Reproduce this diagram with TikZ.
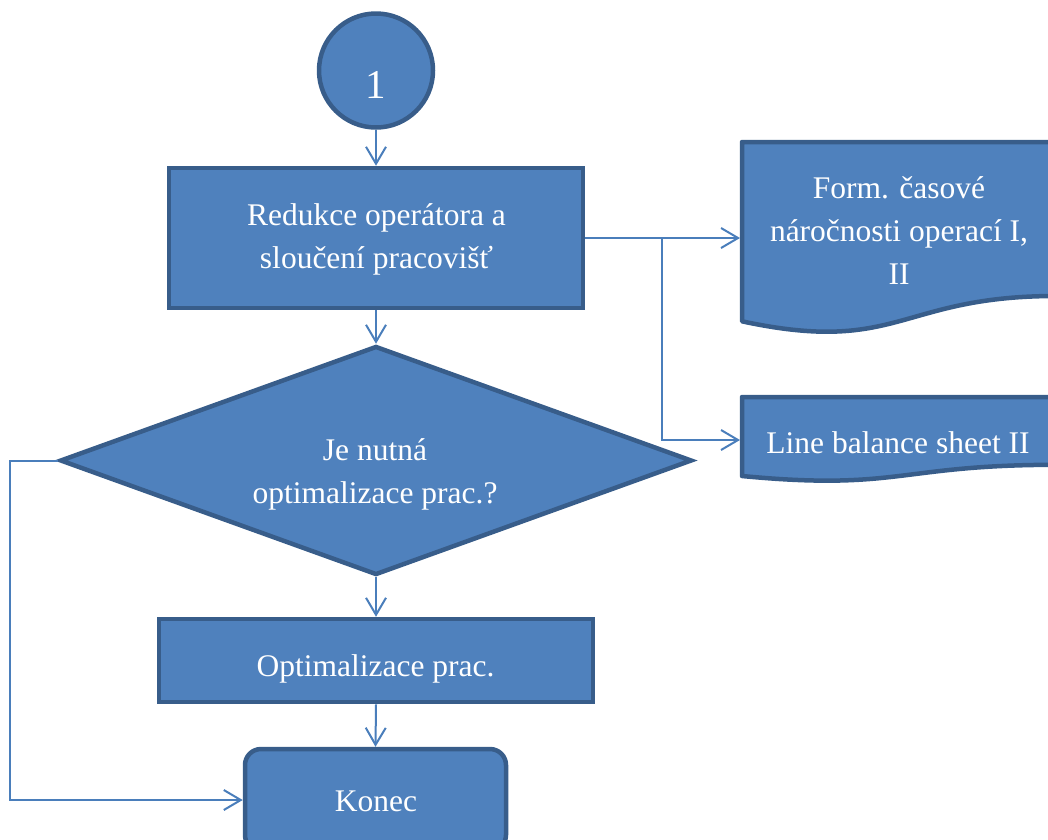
\documentclass[tikz,border=0pt]{standalone}
\usepackage{fontspec}
\setmainfont{Liberation Serif}
\usetikzlibrary{shapes.geometric,arrows.meta}
\definecolor{boxfill}{HTML}{4F81BD}
\definecolor{boxline}{HTML}{385D8A}
\definecolor{wirecol}{HTML}{4A7EBB}
\begin{document}
\begin{tikzpicture}[x=1pt,y=-1pt,
  shapebox/.style={draw=boxline, fill=boxfill, line width=4.5pt, inner sep=0pt},
  docbox/.style={draw=boxline, fill=boxfill, line width=4.5pt, line join=round},
  txt/.style={text=white, font=\fontsize{31.5}{43}\selectfont, align=center, inner sep=0pt},
  conn/.style={draw=wirecol, line width=2pt, -{Straight Barb[length=17pt,width=20pt,line width=2pt]}}]
\useasboundingbox (0,0) rectangle (1048,839);
\clip (0,0) rectangle (1048,839);

% flow shapes
\node[shapebox, circle, minimum size=114pt] (start) at (376,70.5) {};
\node[shapebox, rectangle, minimum width=414pt, minimum height=140pt] (reduce) at (376,238) {};
\node[shapebox, diamond, minimum width=632pt, minimum height=229pt] (ask) at (376,460.5) {};
\node[shapebox, rectangle, minimum width=434pt, minimum height=83pt] (optim) at (376,660.5) {};
\node[shapebox, rectangle, rounded corners=16pt, minimum width=261pt, minimum height=102pt] (stop) at (375.5,800) {};

% document shapes with wavy lower edge
\draw[docbox]
  (742,142) -- (1056,142) -- (1056,296)
  .. controls (899,296) and (899,355) .. (742,321.3) -- cycle;
\draw[docbox]
  (742,397) -- (1056,397) -- (1056,464.8)
  .. controls (899,464.8) and (899,491) .. (742,476) -- cycle;

% labels
\node[txt, font=\fontsize{41}{41}\selectfont, anchor=base] (startlbl) at (376,98) {1};
\node[txt] (reducelbl) at (376.5,239) {Redukce operátora a\\sloučení pracovišť};
\node[txt] (asklbl) at (375,474) {Je nutná\\optimalizace prac.?};
\node[txt, anchor=base] (optimlbl) at (375.5,676) {Optimalizace prac.};
\node[txt, anchor=base] (stoplbl) at (376,811) {Konec};
\node[txt] (doc1lbl) at (899,231) {Form. časové\\náročnosti operací I,\\II};
\node[txt, anchor=base] (doc2lbl) at (898,453) {Line balance sheet II};

% connector helpers
\coordinate (doc1in) at (740,238);
\coordinate (doc2in) at (740,440);
\coordinate (split) at (662,0);
\coordinate (loop) at (10,0);

% connectors
\draw[conn] (start.south) -- (reduce.north);
\draw[conn] (reduce.south) -- (ask.north);
\draw[conn] (ask.south) -- (optim.north);
\draw[conn] (optim.south) -- (stop.north);
\draw[conn] (reduce.east) -- (doc1in);
\draw[conn] (reduce.east -| split) |- (doc2in);
\draw[conn] (ask.west) -- (ask.west -| loop) |- (stop.west);
\end{tikzpicture}
\end{document}
